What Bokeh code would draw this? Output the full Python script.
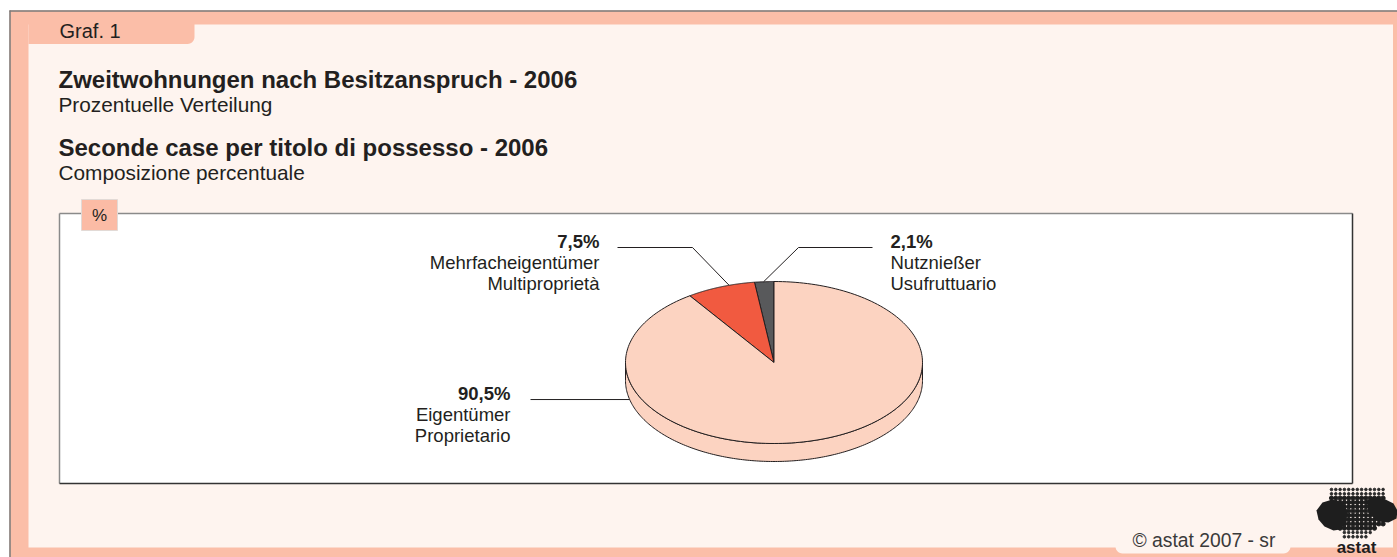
import numpy as np
from bokeh.plotting import figure
from bokeh.models import Range1d
from bokeh.core.properties import value
from bokeh.embed import file_html
from bokeh.resources import INLINE

# ---------------- data ----------------
categories_de = ["Eigentümer", "Mehrfacheigentümer", "Nutznießer"]
categories_it = ["Proprietario", "Multiproprietà", "Usufruttuario"]
shares = [90.5, 7.5, 2.1]
share_labels = ["90,5%", "7,5%", "2,1%"]
slice_colors = ["#FCD3C1", "#F15A40", "#58595B"]

graf_label = "Graf. 1"
title_de = "Zweitwohnungen nach Besitzanspruch - 2006"
subtitle_de = "Prozentuelle Verteilung"
title_it = "Seconde case per titolo di possesso - 2006"
subtitle_it = "Composizione percentuale"
unit_label = "%"
source_label = "© astat 2007 - sr"
logo_label = "astat"

# ---------------- style / layout ----------------
W, H = 1397, 557
FONT = value("Liberation Sans")
SALMON = "#FBBEA8"
CREAM = "#FEF4EF"
INK = "#231F20"

p = figure(width=W, height=H, x_range=Range1d(0, W), y_range=Range1d(H, 0),
           x_axis_location=None, y_axis_location=None, toolbar_location=None,
           output_backend="svg", min_border=0)
p.grid.visible = False
p.outline_line_color = None
p.background_fill_color = "white"
p.border_fill_color = "white"


def rounded_rect(x0, x1, y0, y1, r, corners):
    """polygon of a rectangle (y down) with chosen rounded corners."""
    pts = []
    def arc(ccx, ccy, a0, a1):
        t = np.radians(np.linspace(a0, a1, 8))
        return list(zip(ccx + r * np.cos(t), ccy + r * np.sin(t)))
    pts += arc(x0 + r, y0 + r, 180, 270) if "tl" in corners else [(x0, y0)]
    pts += arc(x1 - r, y0 + r, 270, 360) if "tr" in corners else [(x1, y0)]
    pts += arc(x1 - r, y1 - r, 0, 90) if "br" in corners else [(x1, y1)]
    pts += arc(x0 + r, y1 - r, 90, 180) if "bl" in corners else [(x0, y1)]
    return [q[0] for q in pts], [q[1] for q in pts]


def txt(x, y, s, size, bold=False, align="left", color=INK):
    p.text(x=x, y=y, text=s, text_font=FONT, text_font_size=size,
           text_font_style="bold" if bold else "normal", text_align=align,
           text_baseline="middle", text_color=color)


# frame
p.quad(left=9, right=W, top=10, bottom=H, fill_color=SALMON, line_color=None)
p.quad(left=28, right=1392.5, top=24, bottom=547, fill_color=CREAM, line_color=None)
tx, ty = rounded_rect(28, 194, 20, 43.5, 7, ["br"])
p.patch(tx, ty, fill_color=SALMON, line_color=None)
p.segment(x0=[9, 9.5], y0=[10.5, 10], x1=[W, 9.5], y1=[10.5, H], line_color="#7a7a7a", line_width=1.5)

# source tab
sx, sy = rounded_rect(1115, 1290, 530, 553, 7, ["bl", "br"])
p.patch(sx, sy, fill_color=CREAM, line_color=None)

# plot box
p.quad(left=59, right=1352, top=213, bottom=483, fill_color="white", line_color=None)
p.segment(x0=[59, 59], y0=[213, 213], x1=[1352, 59], y1=[213, 483], line_color="#8a8a8a", line_width=1.5)
p.segment(x0=[1352, 59], y0=[213, 483], x1=[1352, 1352], y1=[483, 483], line_color="#333333", line_width=1.5)

# unit box
p.quad(left=81, right=117, top=199, bottom=230, fill_color="#FBBBA5", line_color="#E2DAD6", line_width=1)
txt([99], [214.5], [unit_label], "17px", align="center")

# titles
txt([59], [30], [graf_label], "20px")
txt([58, 58], [78.7, 146.5], [title_de, title_it], "24px", bold=True)
txt([58, 58], [103.5, 171.5], [subtitle_de, subtitle_it], "20.8px")

# ---------------- 3D pie ----------------
cx, cy, rx, ry, depth = 773.5, 362.0, 148.5, 81.0, 18.0
total = float(sum(shares))
draw_order = [2, 1, 0]  # counter-clockwise from 12 o'clock
start = 90.0
top_xs, top_ys, top_cols = [], [], []
side_xs, side_ys, side_cols = [], [], []
for i in draw_order:
    sweep = shares[i] / total * 360.0
    end = start + sweep
    t = np.radians(np.linspace(start, end, 200))
    top_xs.append([cx] + list(cx + rx * np.cos(t)))
    top_ys.append([cy] + list(cy - ry * np.sin(t)))
    top_cols.append(slice_colors[i])
    for off in (0.0, 360.0):
        lo, hi = max(start, 180.0 + off), min(end, 360.0 + off)
        if lo < hi:
            ts = np.radians(np.linspace(lo, hi, 200))
            xa = cx + rx * np.cos(ts)
            ya = cy - ry * np.sin(ts)
            side_xs.append(list(xa) + list(xa[::-1]))
            side_ys.append(list(ya) + list((ya + depth)[::-1]))
            side_cols.append(slice_colors[i])
    start = end

p.patches(side_xs, side_ys, fill_color=side_cols, line_color=INK, line_width=1)
p.patches(top_xs, top_ys, fill_color=top_cols, line_color=INK, line_width=1)


# leader lines (label anchors are layout)
def ell(a, dz=0.0):
    a = np.radians(a)
    return cx + rx * np.cos(a), cy - ry * np.sin(a) + dz


g = ell(94.0)
r = ell(107.6)
k = ell(193.6, depth)
p.multi_line(xs=[[g[0], 798, 872], [r[0], 692, 617], [k[0], 530]],
             ys=[[g[1], 247, 247], [r[1], 247, 247], [k[1], k[1]]],
             line_color=INK, line_width=1)

# labels: x, first-line centre, alignment per category (same order as data)
lab_x = [510, 599, 890]
lab_y = [392.5, 240.5, 240.5]
lab_align = ["right", "right", "left"]
for i in range(3):
    txt([lab_x[i]], [lab_y[i]], [share_labels[i]], "18.5px", bold=True, align=lab_align[i])
    txt([lab_x[i]] * 2, [lab_y[i] + 21, lab_y[i] + 42], [categories_de[i], categories_it[i]],
        "18.5px", align=lab_align[i])

# source
txt([1132], [540], [source_label], "19.3px", color="#3a3a3a")

# logo (decoration)
b1x = [1316, 1322, 1332, 1342, 1347, 1346, 1340, 1333, 1324, 1318]
b1y = [510, 502, 499, 502, 510, 522, 529, 530, 526, 519]
b2x = [1366, 1374, 1385, 1393, 1397, 1396, 1388, 1378, 1368]
b2y = [500, 497, 499, 503, 510, 518, 522, 521, 512]
gx, gy = np.meshgrid(np.arange(1331, 1384, 4.3), np.arange(489, 540, 4.3))
gx, gy = gx.ravel(), gy.ravel()
keep = (gy < 526) | ((gx > 1338 + (gy - 526) * 0.5) & (gx < 1378 - (gy - 526) * 0.9))
dense = (gy > 497) & (gy < 530)
p.scatter(gx[keep & ~dense], gy[keep & ~dense], size=2.6, color="#2a2a2a")
p.scatter(gx[keep & dense], gy[keep & dense], size=4.2, color="#1e1e1e")
p.patch(b1x, b1y, fill_color="#1e1e1e", line_color=None)
p.patch(b2x, b2y, fill_color="#1e1e1e", line_color=None)
txt([1356], [547], [logo_label], "17px", bold=True, align="center", color="#1e1e1e")

open("out.html", "w").write(file_html(p, INLINE))
